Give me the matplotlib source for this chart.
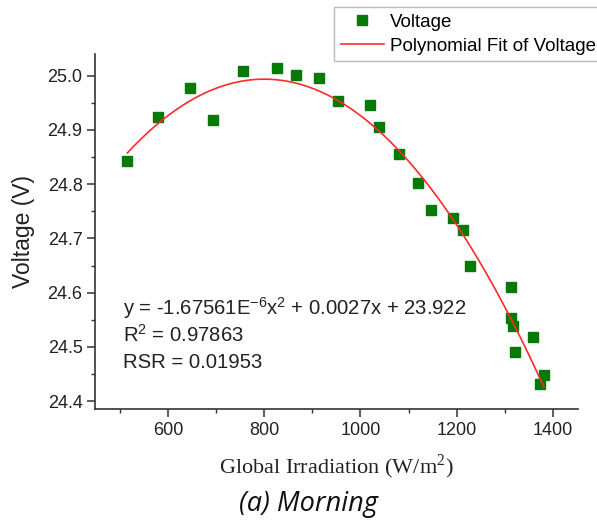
import numpy as np
import matplotlib
matplotlib.use("Agg")
import matplotlib.pyplot as plt
from matplotlib.ticker import MultipleLocator, FormatStrFormatter

# Morning measurements: global irradiation (W/m^2) vs. module voltage (V)
irradiation = [515, 579, 645, 694, 755, 826, 866, 913, 954, 1020, 1038,
               1081, 1120, 1146, 1193, 1214, 1228, 1314, 1313, 1317, 1360,
               1321, 1382, 1374]
voltage = [24.843, 24.924, 24.977, 24.919, 25.009, 25.014, 25.001, 24.995,
           24.954, 24.946, 24.906, 24.856, 24.803, 24.752, 24.737, 24.715,
           24.649, 24.611, 24.554, 24.538, 24.519, 24.491, 24.449, 24.432]

# Quadratic fit coefficients (a*x^2 + b*x + c)
fit_a = -1.67561e-6
fit_b = 0.00268
fit_c = 23.922

equation_lines = [
    r"y = -1.67561E$^{\mathregular{-6}}$x$^{\mathregular{2}}$ + 0.0027x + 23.922",
    r"R$^{\mathregular{2}}$ = 0.97863",
    "RSR = 0.01953",
]

plt.rcParams["font.family"] = ["Liberation Sans", "DejaVu Sans"]

fig = plt.figure(figsize=(5.97, 5.22), dpi=100)
ax = fig.add_axes([95 / 597, 1 - 409.3 / 522, (578 - 95) / 597, (409.3 - 54) / 522])

xs = np.linspace(min(irradiation), max(irradiation), 300)
ys = fit_a * xs ** 2 + fit_b * xs + fit_c

ax.plot(irradiation, voltage, linestyle="none", marker="s", markersize=6.5,
        color="#067a06", label="Voltage", zorder=2)
ax.plot(xs, ys, color="#ff2a2a", linewidth=1.2,
        label="Polynomial Fit of Voltage", zorder=3)

ax.set_xlim(447.5, 1452.7)
ax.set_ylim(24.385, 25.04)

ax.xaxis.set_major_locator(MultipleLocator(200))
ax.xaxis.set_minor_locator(MultipleLocator(100))
ax.yaxis.set_major_locator(MultipleLocator(0.1))
ax.yaxis.set_minor_locator(MultipleLocator(0.05))
ax.yaxis.set_major_formatter(FormatStrFormatter("%.1f"))
ax.xaxis.set_major_formatter(FormatStrFormatter("%d"))

for side in ("top", "right"):
    ax.spines[side].set_visible(False)
for side in ("left", "bottom"):
    ax.spines[side].set_linewidth(1.2)
    ax.spines[side].set_color("#333333")

ax.tick_params(axis="both", which="major", direction="out", length=5.5,
               width=1.1, pad=3.5, labelsize=13, colors="#333333",
               labelcolor="#222222")
ax.tick_params(axis="both", which="minor", direction="out", length=3,
               width=1.0, colors="#333333")

ax.set_ylabel("Voltage (V)", fontsize=16.5, color="#222222", labelpad=9)
ax.set_xlabel("Global Irradiation (W/m$^{\\mathregular{2}}$)", fontsize=16,
              family="Liberation Serif", color="#222222", labelpad=10)

for i, line in enumerate(equation_lines):
    ax.text(123 / 597, 1 - (308 + 27 * i) / 522, line, transform=fig.transFigure,
            fontsize=14.6, color="#222222", va="center", ha="left")

leg = ax.legend(loc="upper left", bbox_to_anchor=(334 / 597, 1 - 7 / 522),
                bbox_transform=fig.transFigure, borderaxespad=0, fontsize=13.5,
                fancybox=False, frameon=True, handlelength=2.3,
                handletextpad=0.35, labelspacing=0.37, borderpad=0.35)
leg.get_frame().set_edgecolor("#aaaaaa")
leg.get_frame().set_linewidth(1.0)

fig.text(308 / 597, 1 - 504 / 522, "(a) Morning", fontsize=19.5, style="italic",
         family=["Open Sans", "DejaVu Sans"], ha="center", va="center",
         color="#111111")

fig.savefig("out.png", dpi=100)
